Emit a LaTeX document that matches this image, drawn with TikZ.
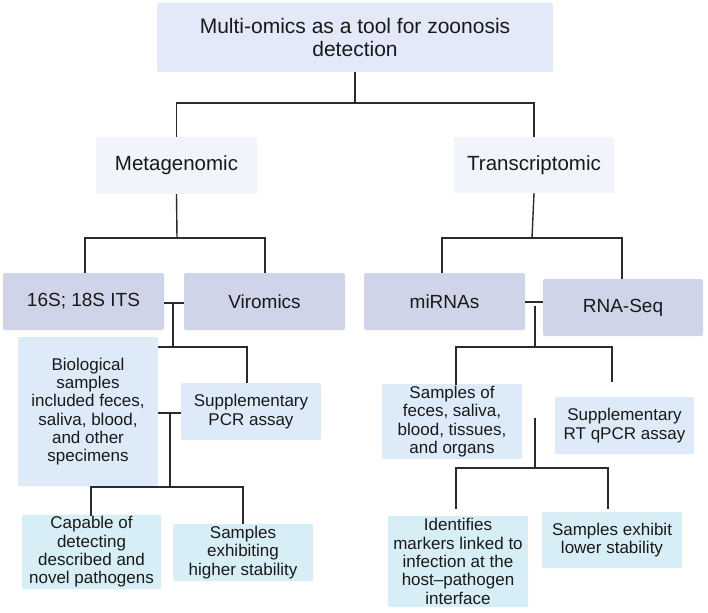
\documentclass[tikz,border=0pt]{standalone}
\usepackage{fontspec}
\setmainfont{Liberation Sans}
\definecolor{titlefill}{HTML}{E3E9F8}
\definecolor{branchfill}{HTML}{F1F4FB}
\definecolor{methodfill}{HTML}{CFD4E8}
\definecolor{samplefill}{HTML}{DDEBF9}
\definecolor{resultfill}{HTML}{D8EEF6}
\definecolor{linkcol}{HTML}{2B2B2B}
\tikzset{
  box/.style={rounded corners=2pt, align=center, inner sep=2pt, text=black!90},
  titlebox/.style={box, fill=titlefill, minimum width=396pt, minimum height=69pt, font=\fontsize{21}{23.5}\selectfont},
  branchbox/.style={box, fill=branchfill, minimum width=161pt, minimum height=57pt, font=\fontsize{20.5}{23}\selectfont},
  methodbox/.style={box, fill=methodfill, minimum width=161pt, minimum height=57pt, font=\fontsize{19}{22}\selectfont},
  samplebox/.style={box, fill=samplefill, minimum width=140pt, font=\fontsize{17}{18.3}\selectfont},
  resultbox/.style={box, fill=resultfill, minimum width=140pt, font=\fontsize{17}{18.3}\selectfont},
  link/.style={draw=linkcol, line width=1.4pt}
}
\begin{document}
\begin{tikzpicture}[x=1pt,y=-1pt]
\useasboundingbox[fill=white] (0,0) rectangle (708,612);

\node[titlebox] (title) at (355,37.5) {Multi-omics as a tool for zoonosis\\detection};

\node[branchbox] (meta) at (176.5,165.5) {Metagenomic};
\node[branchbox, minimum width=160pt, minimum height=56pt] (trans) at (534,165) {Transcriptomic};

\node[methodbox] (rrna) at (83.5,301.5) {16S; 18S ITS};
\node[methodbox] (viro) at (264.5,301.5) {Viromics};
\node[methodbox] (mirna) at (444.5,301.5) {miRNAs};
\node[methodbox, minimum width=160pt] (rnaseq) at (623,307.5) {RNA-Seq};

\node[samplebox, minimum height=149pt] (bio) at (88,411.5) {Biological\\samples\\included feces,\\saliva, blood,\\and other\\specimens};
\node[samplebox, minimum height=57pt] (pcr) at (251,411.5) {Supplementary\\PCR assay};
\node[samplebox, minimum height=73pt] (feces) at (452,421.5) {Samples of\\feces, saliva,\\blood, tissues,\\and organs};
\node[samplebox, minimum width=139pt, minimum height=57pt] (rtpcr) at (624.5,425.5) {Supplementary\\RT qPCR assay};

\node[resultbox, minimum width=139pt, minimum height=72pt] (novel) at (91.5,552) {Capable of\\detecting\\described and\\novel pathogens};
\node[resultbox, minimum height=57pt] (higher) at (243,552.5) {Samples\\exhibiting\\higher stability};
\node[resultbox, minimum height=91pt] (marker) at (458,561.5) {Identifies\\markers linked to\\infection at the\\host\textendash pathogen\\interface};
\node[resultbox, minimum height=56pt] (lower) at (612,540) {Samples exhibit\\lower stability};

\coordinate (t1) at (355,103);
\draw[link] (title.south) -- (t1);
\draw[link] (meta.north) |- (t1) -| (trans.north);

\coordinate (m1) at (177,238);
\draw[link] (meta.south) -- (m1);
\draw[link] (85,273) |- (m1) -| (265,273);
\coordinate (r1) at (532,238);
\draw[link] (trans.south) -- (r1);
\draw[link] (442,273) |- (r1) -| (622,279);

\draw[link] (rrna.east |- 0,303) -- (viro.west |- 0,303);
\draw[link] (173,303) -- (173,347);
\draw[link] (bio.east |- 0,347) -| (247,383);
\draw[link] (bio.east |- 0,413) -- (pcr.west |- 0,413);
\draw[link] (170,413) -- (170,487);
\draw[link] (91,516) |- (170,487) -| (243,524);

\draw[link] (mirna.east |- 0,302) -- (rnaseq.west |- 0,302);
\draw[link] (535,306) -- (535,347);
\draw[link] (456,385) |- (535,347) -| (612,382);
\draw[link] (535,418) -- (535,468);
\draw[link] (456,509) |- (535,468) -| (608,509);
\end{tikzpicture}
\end{document}
